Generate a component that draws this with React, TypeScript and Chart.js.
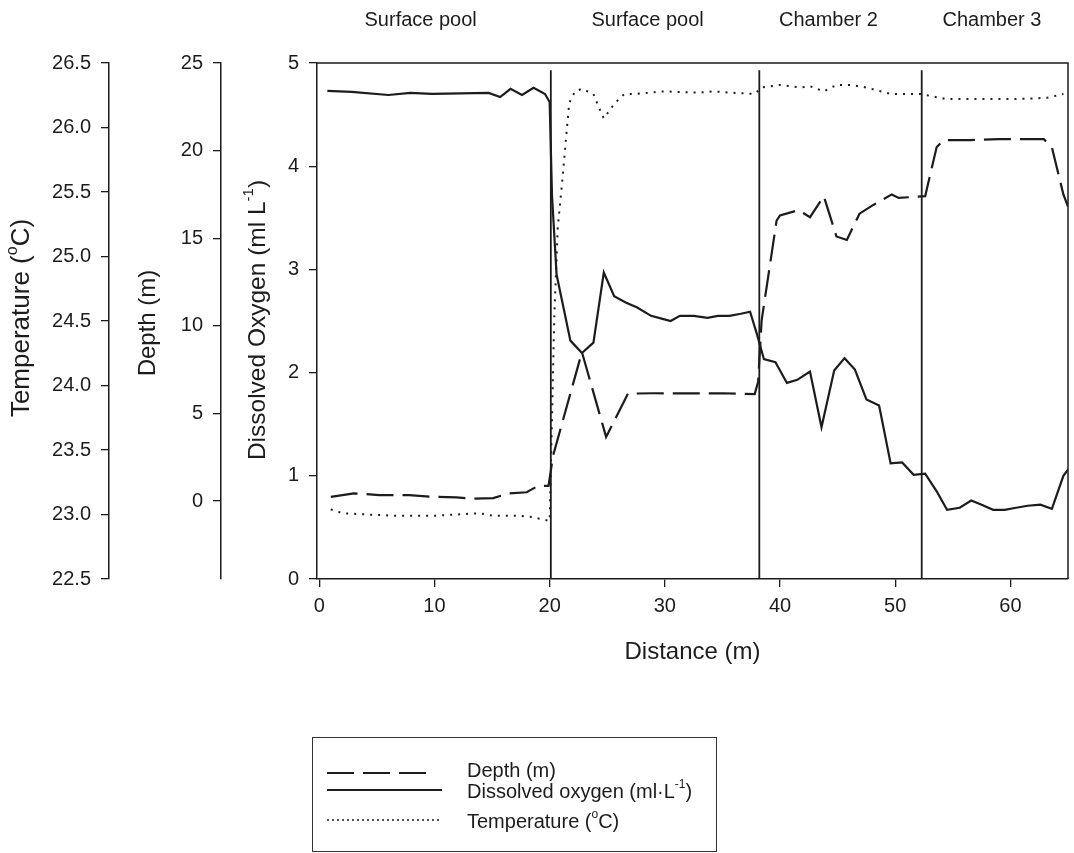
import React, { useEffect, useRef } from "react";
import { Chart, registerables } from "chart.js";

Chart.register(...registerables);

const FONT = "'Liberation Sans', Arial, Helvetica, sans-serif";
const INK = "#1c1c1c";

// ---- data ----
const sectionLabels = ["Surface pool", "Surface pool", "Chamber 2", "Chamber 3"];
const sectionLabelDistances = [8.8, 28.5, 44.2, 58.4];

const boundaryDistances = [20.1, 38.2, 52.3];
const boundaryTop = 4.93; // ml/L on the oxygen axis

const xTickStep = 10;
const oxygenTickStep = 1;
const depthTickStep = 5;
const tempTickStep = 0.5;

const doDistance = [
  0.7, 2.8, 6.0, 7.9, 9.8, 14.7, 15.7, 16.6, 17.6, 18.6, 19.6, 20.0, 20.2, 20.6, 21.8,
  22.8, 23.8, 24.7, 25.6, 26.6, 27.6, 28.8, 29.8, 30.5, 31.3, 32.5, 33.7, 34.6, 35.6, 36.6,
  37.4, 38.0, 38.6, 39.6, 40.6, 41.5, 42.6, 43.6, 44.7, 45.6, 46.5, 47.5, 48.6, 49.6, 50.6,
  51.6, 52.6, 53.6, 54.5, 55.6, 56.6, 57.5, 58.5, 59.5, 60.5, 61.5, 62.6, 63.6, 64.6, 65.0,
];
const doValues = [
  4.73, 4.72, 4.69, 4.71, 4.7, 4.71, 4.67, 4.75, 4.69, 4.76, 4.7, 4.62, 3.72, 2.95, 2.31,
  2.19, 2.29, 2.97, 2.74, 2.68, 2.63, 2.55, 2.52, 2.5, 2.55, 2.55, 2.53, 2.55, 2.55, 2.57,
  2.59, 2.37, 2.13, 2.1, 1.9, 1.93, 2.01, 1.47, 2.02, 2.14, 2.03, 1.74, 1.68, 1.12, 1.13,
  1.01, 1.02, 0.85, 0.67, 0.69, 0.76, 0.72, 0.67, 0.67, 0.69, 0.71, 0.72, 0.68, 1.0, 1.06,
];

const depthDistance = [
  1.0, 3.0, 5.2, 7.8, 9.9, 11.9, 13.3, 15.1, 16.5, 18.0, 19.0, 19.9, 20.3, 22.8, 24.9,
  26.8, 29.0, 31.0, 33.0, 35.0, 37.8, 38.1, 38.4, 39.7, 40.0, 41.6, 42.6, 43.8, 44.9, 45.8,
  46.9, 48.1, 49.7, 50.3, 52.6, 53.6, 54.2, 56.5, 59.0, 61.0, 62.9, 63.6, 64.6, 65.0,
];
const depthValues = [
  0.24, 0.44, 0.34, 0.34, 0.24, 0.21, 0.13, 0.17, 0.44, 0.5, 0.87, 0.87, 2.6, 8.5, 3.66,
  6.13, 6.15, 6.15, 6.15, 6.15, 6.1, 6.8, 10.3, 16.0, 16.3, 16.6, 16.2, 17.4, 15.1, 14.9,
  16.4, 16.9, 17.5, 17.3, 17.4, 20.2, 20.6, 20.6, 20.65, 20.65, 20.65, 20.2, 17.5, 16.8,
];

const tempDistance = [
  1.0, 2.0, 4.1, 6.7, 9.9, 11.9, 13.9, 15.1, 17.4, 18.5, 20.0, 20.4, 20.7, 21.2, 21.5,
  21.7, 22.2, 22.8, 23.8, 24.2, 24.7, 25.5, 26.1, 26.5, 27.5, 29.9, 32.8, 34.2, 35.7, 37.8,
  38.4, 40.0, 41.7, 42.6, 43.8, 44.9, 46.1, 47.5, 49.6, 52.2, 53.3, 54.5, 57.4, 60.3, 63.2,
  64.6,
];
const tempValues = [
  23.04, 23.01, 23.0, 22.99, 22.99, 23.0, 23.01, 22.99, 22.99, 22.98, 22.95, 24.53, 25.22, 25.69, 26.0,
  26.19, 26.28, 26.3, 26.26, 26.17, 26.07, 26.17, 26.23, 26.26, 26.26, 26.28, 26.27, 26.28, 26.27, 26.26,
  26.31, 26.33, 26.31, 26.32, 26.28, 26.33, 26.33, 26.31, 26.26, 26.26, 26.24, 26.22, 26.22, 26.22, 26.23,
  26.26,
];

// ---- styles ----
const DEPTH_DASH = [27, 9];
const TEMP_DOT_PLOT = [2, 6];
const TEMP_DOT_LEGEND = [2, 3];

type Seg = [string, boolean];

function drawRich(ctx: CanvasRenderingContext2D, segs: Seg[], x: number, y: number, size: number, align: "left" | "center") {
  const supSize = Math.round(size * 0.62);
  const widths = segs.map(([t, sup]) => {
    ctx.font = `${sup ? supSize : size}px ${FONT}`;
    return ctx.measureText(t).width;
  });
  const total = widths.reduce((a, b) => a + b, 0);
  let cx = align === "center" ? x - total / 2 : x;
  ctx.textAlign = "left";
  ctx.textBaseline = "middle";
  segs.forEach(([t, sup], i) => {
    ctx.font = `${sup ? supSize : size}px ${FONT}`;
    ctx.fillText(t, cx, sup ? y - size * 0.36 : y);
    cx += widths[i];
  });
}

function drawRotated(ctx: CanvasRenderingContext2D, segs: Seg[], cx: number, cy: number, size: number) {
  ctx.save();
  ctx.translate(cx, cy);
  ctx.rotate(-Math.PI / 2);
  drawRich(ctx, segs, 0, 0, size, "center");
  ctx.restore();
}

const decorPlugin = {
  id: "decor",
  afterDraw(chart: any) {
    const { ctx, chartArea: a, scales } = chart;
    ctx.save();
    // frame (top + right)
    ctx.strokeStyle = INK;
    ctx.lineWidth = 1.5;
    ctx.setLineDash([]);
    ctx.beginPath();
    ctx.moveTo(a.left, a.top);
    ctx.lineTo(a.right, a.top);
    ctx.lineTo(a.right, a.bottom);
    ctx.stroke();

    // section labels
    ctx.fillStyle = INK;
    ctx.font = `20px ${FONT}`;
    ctx.textAlign = "center";
    ctx.textBaseline = "middle";
    sectionLabels.forEach((t, i) => {
      ctx.fillText(t, scales.x.getPixelForValue(sectionLabelDistances[i]), 20);
    });

    // y axis titles
    drawRotated(ctx, [["Temperature (", false], ["o", true], ["C)", false]], scales.yTemp.left + 22, 318, 26);
    drawRotated(ctx, [["Depth (m)", false]], scales.yDepth.left + 39, 323, 24);
    drawRotated(ctx, [["Dissolved Oxygen (ml L", false], ["-1", true], [")", false]], scales.yDO.left + 37, 320, 24.5);

    // legend
    const lx = 312.5, ly = 737.5, lw = 404, lh = 114;
    ctx.lineWidth = 1;
    ctx.strokeStyle = "#333";
    ctx.strokeRect(lx, ly, lw, lh);
    const sx0 = 327, sx1 = 442, tx = 467;
    const items: { segs: Seg[]; dash: number[]; width: number; ly: number; ty: number; end: number }[] = [
      { segs: [["Depth (m)", false]], dash: DEPTH_DASH, width: 2, ly: 773, ty: 771.5, end: 431 },
      { segs: [["Dissolved oxygen (ml\u00b7L", false], ["-1", true], [")", false]], dash: [], width: 2, ly: 790, ty: 792, end: sx1 },
      { segs: [["Temperature (", false], ["o", true], ["C)", false]], dash: TEMP_DOT_LEGEND, width: 1.5, ly: 820, ty: 822, end: sx1 },
    ];
    items.forEach((it) => {
      ctx.strokeStyle = INK;
      ctx.lineWidth = it.width;
      ctx.setLineDash(it.dash);
      ctx.beginPath();
      ctx.moveTo(sx0, it.ly);
      ctx.lineTo(it.end, it.ly);
      ctx.stroke();
      ctx.setLineDash([]);
      ctx.fillStyle = INK;
      drawRich(ctx, it.segs, tx, it.ty, 20, "left");
    });
    ctx.restore();
  },
};

const toPoints = (xs: number[], ys: number[]) => xs.map((x, i) => ({ x, y: ys[i] }));

export default function App() {
  const ref = useRef<HTMLCanvasElement>(null);
  useEffect(() => {
    if (!ref.current) return;
    Chart.defaults.font.family = FONT;
    Chart.defaults.color = INK;

    const axisCommon = (width: number) => ({
      grid: { drawOnChartArea: false, drawTicks: true, tickLength: 8, color: INK, lineWidth: 1.3 },
      border: { display: true, color: INK, width: 1.5 },
      afterFit: (s: any) => {
        s.width = width;
      },
    });

    const boundaryDatasets = boundaryDistances.map((d) => ({
      label: "boundary",
      data: [
        { x: d, y: 0 },
        { x: d, y: boundaryTop },
      ],
      yAxisID: "yDO",
      borderColor: INK,
      borderWidth: 1.8,
      pointRadius: 0,
    }));

    const chart = new Chart(ref.current, {
      type: "line",
      data: {
        datasets: [
          {
            label: "Depth (m)",
            data: toPoints(depthDistance, depthValues),
            yAxisID: "yDepth",
            borderColor: INK,
            borderWidth: 2.2,
            borderDash: DEPTH_DASH,
            pointRadius: 0,
          },
          {
            label: "Dissolved oxygen",
            data: toPoints(doDistance, doValues),
            yAxisID: "yDO",
            borderColor: INK,
            borderWidth: 2.2,
            pointRadius: 0,
          },
          {
            label: "Temperature",
            data: toPoints(tempDistance, tempValues),
            yAxisID: "yTemp",
            borderColor: INK,
            borderWidth: 2,
            borderDash: TEMP_DOT_PLOT,
            pointRadius: 0,
          },
          ...boundaryDatasets,
        ] as any,
      },
      options: {
        responsive: false,
        devicePixelRatio: 1,
        animation: false,
        layout: { padding: { left: 0, top: 63, right: 6, bottom: 184 } },
        elements: { line: { tension: 0, borderCapStyle: "butt" } },
        plugins: { legend: { display: false }, tooltip: { enabled: false } },
        scales: {
          x: {
            type: "linear",
            position: "bottom",
            min: -0.2,
            max: 65,
            ticks: { stepSize: xTickStep, includeBounds: false, font: { size: 20 }, color: INK, padding: 7 },
            grid: { drawOnChartArea: false, drawTicks: true, tickLength: 8, color: INK, lineWidth: 1.3 },
            border: { display: true, color: INK, width: 1.5 },
            title: { display: true, text: "Distance (m)", font: { size: 24 }, color: INK, padding: { top: 0, bottom: 2 } },
            afterFit: (s: any) => {
              s.height = 90;
            },
          },
          yDO: {
            type: "linear",
            position: "left",
            weight: 0,
            min: 0,
            max: 5,
            ticks: { stepSize: oxygenTickStep, font: { size: 20 }, color: INK, padding: 10 },
            ...axisCommon(96),
          },
          yDepth: {
            type: "linear",
            position: "left",
            weight: 1,
            min: -4.45,
            max: 25,
            ticks: { stepSize: depthTickStep, includeBounds: false, font: { size: 20 }, color: INK, padding: 10 },
            ...axisCommon(112),
          },
          yTemp: {
            type: "linear",
            position: "left",
            weight: 2,
            min: 22.5,
            max: 26.5,
            ticks: {
              stepSize: tempTickStep,
              font: { size: 20 },
              color: INK,
              padding: 10,
              callback: (v: any) => Number(v).toFixed(1),
            },
            ...axisCommon(109),
          },
        } as any,
      },
      plugins: [decorPlugin],
    });
    return () => chart.destroy();
  }, []);

  return (
    <div style={{ position: "fixed", left: 0, top: 0, width: 1074, height: 853, background: "#fff" }}>
      <canvas ref={ref} width={1074} height={853} style={{ display: "block", width: 1074, height: 853 }} />
    </div>
  );
}
